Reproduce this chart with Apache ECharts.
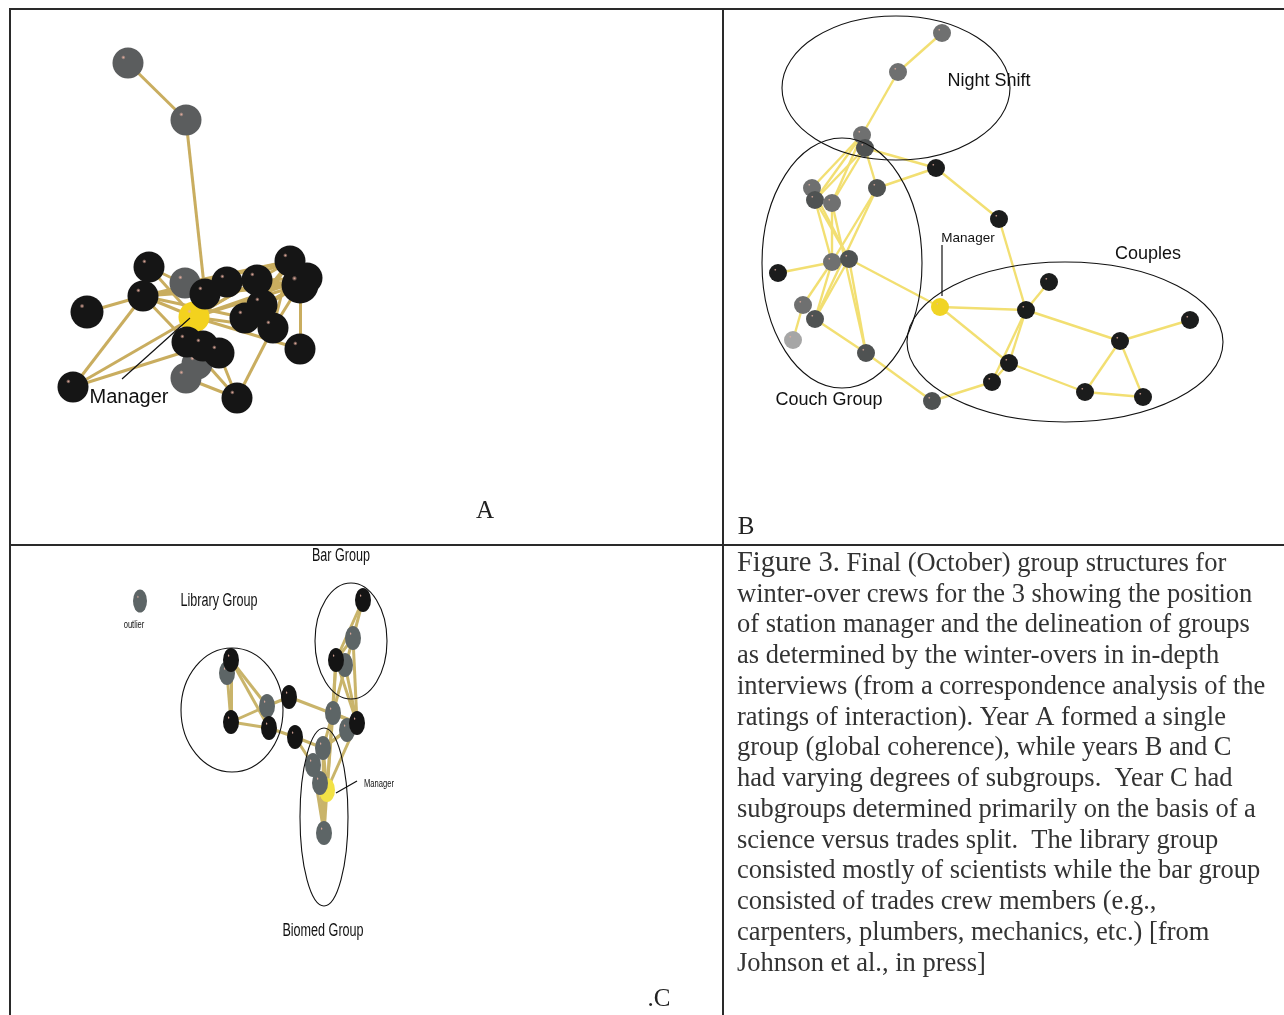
<!DOCTYPE html>
<html>
<head>
<meta charset="utf-8">
<script src="https://cdn.jsdelivr.net/npm/echarts@6/dist/echarts.min.js"></script>
<style>
  html, body { margin: 0; padding: 0; background: #fff; }
  #chart { width: 1284px; height: 1015px; }
</style>
</head>
<body>
<div id="chart"></div>
<script>
// ---------- Year A: single cohesive crew (positions [x, y, role]) ----------
const nodesA = [
  [118, 54, 'dark'], [176, 111, 'dark'], [77, 303, 'black'], [133, 287, 'black'],
  [139, 258, 'black'], [175, 274, 'dark'], [297, 269, 'black'], [184, 308, 'manager'],
  [195, 285, 'black'], [217, 273, 'black'], [247, 271, 'black'], [280, 252, 'black'],
  [290, 276, 'black'], [252, 296, 'black'], [235, 309, 'black'], [263, 319, 'black'],
  [290, 340, 'black'], [187, 355, 'dark'], [176, 369, 'dark'], [177, 333, 'black'],
  [193, 337, 'black'], [209, 344, 'black'], [63, 378, 'black'], [227, 389, 'black']
];
const linksA = [
  [0, 1], [1, 8], [2, 3], [3, 9], [3, 10], [3, 11], [3, 12], [3, 14], [3, 19], [3, 7],
  [4, 8], [4, 7], [22, 3], [22, 7], [22, 20], [23, 19], [23, 15], [23, 21], [18, 23],
  [16, 12], [15, 12], [15, 11], [8, 11], [8, 12], [8, 10], [8, 9], [7, 11], [7, 12],
  [7, 10], [7, 6], [5, 12], [5, 11], [9, 12], [10, 12], [14, 11], [14, 12], [13, 11],
  [13, 12], [14, 6], [9, 6], [19, 17], [20, 18], [7, 15], [7, 16]
];
const labelsA = [['Manager', 119, 388]];
const leadersA = [[112, 370, 180, 309]];

// ---------- Year B: night shift, couch group and couples ----------
const nodesB = [
  [219, 24, 'gray'], [175, 63, 'gray'], [139, 126, 'gray'], [142, 139, 'dark'],
  [213, 159, 'black'], [89, 179, 'gray'], [92, 191, 'dark'], [109, 194, 'gray'],
  [154, 179, 'dark'], [276, 210, 'black'], [55, 264, 'black'], [109, 253, 'gray'],
  [126, 250, 'dark'], [217, 298, 'manager'], [80, 296, 'gray'], [92, 310, 'dark'],
  [70, 331, 'light'], [143, 344, 'dark'], [209, 392, 'dark'], [326, 273, 'black'],
  [303, 301, 'black'], [467, 311, 'black'], [397, 332, 'black'], [286, 354, 'black'],
  [269, 373, 'black'], [362, 383, 'black'], [420, 388, 'black']
];
const linksB = [
  [0, 1], [1, 2], [2, 5], [2, 6], [2, 7], [3, 6], [3, 7], [3, 8], [3, 4], [8, 4],
  [4, 9], [9, 20], [8, 11], [8, 15], [5, 12], [6, 11], [6, 12], [7, 11], [7, 17],
  [10, 12], [11, 12], [12, 13], [11, 14], [11, 15], [12, 15], [12, 17], [14, 16],
  [15, 17], [17, 18], [18, 24], [13, 20], [13, 23], [20, 19], [20, 23], [20, 24],
  [20, 22], [23, 24], [23, 25], [22, 21], [22, 25], [22, 26], [25, 26]
];
const groupsB = [[173, 79, 114, 72], [119, 254, 80, 125], [342, 333, 158, 80]];
const labelsB = [['Night Shift', 266, 72], ['Couch Group', 106, 391], ['Couples', 425, 245], ['Manager', 245, 229]];
const leadersB = [[219, 236, 219, 287]];

// ---------- Year C: library, bar and biomed groups ----------
const nodesC = [
  [130, 56, 'gray'], [353, 55, 'black'], [343, 93, 'gray'], [335, 120, 'gray'],
  [326, 115, 'black'], [217, 128, 'gray'], [221, 115, 'black'], [279, 152, 'black'],
  [257, 161, 'gray'], [221, 177, 'black'], [259, 183, 'black'], [323, 168, 'gray'],
  [337, 185, 'gray'], [347, 178, 'black'], [285, 192, 'black'], [313, 203, 'gray'],
  [303, 220, 'gray'], [317, 245, 'manager'], [310, 238, 'gray'], [314, 288, 'gray']
];
const linksC = [
  [6, 9], [5, 9], [6, 10], [6, 8], [9, 10], [9, 8], [8, 7], [10, 14], [7, 13], [14, 15],
  [14, 16], [1, 4], [1, 2], [2, 4], [2, 11], [4, 11], [4, 13], [3, 13], [2, 13], [11, 13],
  [11, 15], [13, 15], [13, 17], [11, 17], [15, 17], [16, 17], [15, 19], [17, 19], [16, 19],
  [18, 19], [4, 17], [12, 15]
];
const groupsC = [[222, 165, 51, 62], [341, 96, 36, 58], [314, 272, 24, 89]];
const labelsC = [['Library Group', 209, 56], ['Bar Group', 331, 11], ['Biomed Group', 313, 386], ['Manager', 369, 239], ['outlier', 124, 80]];
const leadersC = [[326, 248, 347, 236]];

// ---------- panels (page layout) ----------
const panels = [
  { left: 10, top: 9, width: 713, height: 536 },
  { left: 723, top: 9, width: 561, height: 536 },
  { left: 10, top: 545, width: 713, height: 470 }
];

const captionLead = 'Figure 3.';
const captionLines = [
  'Final (October) group structures for',
  'winter-over crews for the 3 showing the position',
  'of station manager and the delineation of groups',
  'as determined by the winter-overs in in-depth',
  'interviews (from a correspondence analysis of the',
  'ratings of interaction). Year A formed a single',
  'group (global coherence), while years B and C',
  'had varying degrees of subgroups.  Year C had',
  'subgroups determined primarily on the basis of a',
  'science versus trades split.  The library group',
  'consisted mostly of scientists while the bar group',
  'consisted of trades crew members (e.g.,',
  'carpenters, plumbers, mechanics, etc.) [from',
  'Johnson et al., in press]'
];

const palettes = [
  { black: '#151515', dark: '#5b5d5e', gray: '#5b5d5e', manager: '#f3d21e' },
  { black: '#1b1c1c', dark: '#4f5252', gray: '#6f7070', light: '#a6a6a6', manager: '#f0d424' },
  { black: '#141414', dark: '#5d6566', gray: '#5d6566', manager: '#f2e246' }
];
const edgeColors = ['#c9ad5f', '#f2df72', '#c9b46a'];

function nodeFill(base) {
  return {
    type: 'radial', x: 0.35, y: 0.32, r: 0.6,
    colorStops: [
      { offset: 0, color: '#e8b0a0' },
      { offset: 0.12, color: base },
      { offset: 1, color: base }
    ]
  };
}

function graphSeries(nodes, links, idx, sizeOf) {
  const pal = palettes[idx];
  return {
    type: 'graph', coordinateSystem: 'cartesian2d', xAxisIndex: idx, yAxisIndex: idx,
    layout: 'none', silent: true, z: 3,
    data: nodes.map((n, i) => ({
      value: [n[0], n[1]],
      symbolSize: sizeOf(n, i),
      itemStyle: { color: nodeFill(pal[n[2]]) }
    })),
    links: links.map(l => ({ source: l[0], target: l[1] })),
    lineStyle: { color: edgeColors[idx], width: idx === 1 ? 2.4 : 3, opacity: 1, curveness: 0 },
    label: { show: false }
  };
}

function ellipseSeries(groups, idx) {
  return {
    type: 'custom', coordinateSystem: 'cartesian2d', xAxisIndex: idx, yAxisIndex: idx,
    silent: true, z: 6,
    data: groups.map(g => g.slice()),
    renderItem(params, api) {
      const c = api.coord([api.value(0), api.value(1)]);
      const s = api.size([api.value(2), api.value(3)]);
      return {
        type: 'ellipse',
        shape: { cx: c[0], cy: c[1], rx: Math.abs(s[0]), ry: Math.abs(s[1]) },
        style: { fill: null, stroke: '#111', lineWidth: 1.1 }
      };
    }
  };
}

function leaderSeries(leaders, idx) {
  return {
    type: 'custom', coordinateSystem: 'cartesian2d', xAxisIndex: idx, yAxisIndex: idx,
    silent: true, z: 7,
    data: leaders.map(l => l.slice()),
    renderItem(params, api) {
      const a = api.coord([api.value(0), api.value(1)]);
      const b = api.coord([api.value(2), api.value(3)]);
      return {
        type: 'line',
        shape: { x1: a[0], y1: a[1], x2: b[0], y2: b[1] },
        style: { stroke: '#111', lineWidth: 1.2 }
      };
    }
  };
}

function labelSeries(labels, idx, fontFor) {
  return {
    type: 'custom', coordinateSystem: 'cartesian2d', xAxisIndex: idx, yAxisIndex: idx,
    silent: true, z: 8,
    data: labels.map(l => [l[1], l[2]]),
    renderItem(params, api) {
      const p = api.coord([api.value(0), api.value(1)]);
      const txt = labels[params.dataIndex][0];
      const f = fontFor(txt);
      return {
        type: 'text', x: p[0], y: p[1], scaleX: f.scaleX || 1,
        style: { text: txt, font: f.font, fill: '#111', align: 'center', verticalAlign: 'middle' }
      };
    }
  };
}

const sans = '"Liberation Sans", Arial, sans-serif';
const fontA = () => ({ font: '20px ' + sans });
const fontB = t => (t === 'Manager' ? { font: '13.5px ' + sans } : { font: '18px ' + sans });
const fontC = t => (t === 'Manager' || t === 'outlier'
  ? { font: '10px ' + sans, scaleX: 0.76 }
  : { font: '18px ' + sans, scaleX: 0.7 });

const bigA = { 12: 37, 2: 33 };

const chart = echarts.init(document.getElementById('chart'), null, { renderer: 'canvas' });

const serif = '"Liberation Serif", "Times New Roman", serif';
const lineStep = 30.75;
const captionGraphics = captionLines.map((line, i) => ({
  type: 'text', x: 737, y: 564 + i * lineStep,
  style: i === 0
    ? { text: '{big|' + captionLead + '} ' + line, font: '26.5px ' + serif, fill: '#333',
        verticalAlign: 'middle',
        rich: { big: { fontSize: 28.5, fontFamily: serif, fill: '#333' } } }
    : { text: line, font: '26.5px ' + serif, fill: '#333', verticalAlign: 'middle' }
}));

chart.setOption({
  animation: false,
  backgroundColor: '#fff',
  grid: panels.map(p => ({ left: p.left, top: p.top, width: p.width, height: p.height, containLabel: false, show: false })),
  xAxis: panels.map((p, i) => ({ type: 'value', gridIndex: i, min: 0, max: p.width, show: false })),
  yAxis: panels.map((p, i) => ({ type: 'value', gridIndex: i, min: 0, max: p.height, inverse: true, show: false })),
  series: [
    graphSeries(nodesA, linksA, 0, (n, i) => bigA[i] || 31),
    graphSeries(nodesB, linksB, 1, () => 18),
    graphSeries(nodesC, linksC, 2, (n, i) => (i === 0 ? [14, 23] : [16, 24])),
    ellipseSeries(groupsB, 1),
    ellipseSeries(groupsC, 2),
    leaderSeries(leadersA, 0),
    leaderSeries(leadersB, 1),
    leaderSeries(leadersC, 2),
    labelSeries(labelsA, 0, fontA),
    labelSeries(labelsB, 1, fontB),
    labelSeries(labelsC, 2, fontC)
  ],
  graphic: [
    // panel frame
    { type: 'polyline', silent: true, z: 20, shape: { points: [[10, 1015], [10, 9], [1284, 9]] }, style: { stroke: '#2a2a2a', lineWidth: 2, fill: null } },
    { type: 'line', silent: true, z: 20, shape: { x1: 723, y1: 9, x2: 723, y2: 1015 }, style: { stroke: '#2a2a2a', lineWidth: 2 } },
    { type: 'line', silent: true, z: 20, shape: { x1: 10, y1: 545, x2: 1284, y2: 545 }, style: { stroke: '#2a2a2a', lineWidth: 2 } },
    // panel letters
    { type: 'text', x: 485, y: 511, style: { text: 'A', font: '25px ' + serif, fill: '#222', align: 'center', verticalAlign: 'middle' } },
    { type: 'text', x: 746, y: 527, style: { text: 'B', font: '25px ' + serif, fill: '#222', align: 'center', verticalAlign: 'middle' } },
    { type: 'text', x: 659, y: 999, style: { text: '.C', font: '25px ' + serif, fill: '#222', align: 'center', verticalAlign: 'middle' } },
    ...captionGraphics
  ]
});
</script>
</body>
</html>
